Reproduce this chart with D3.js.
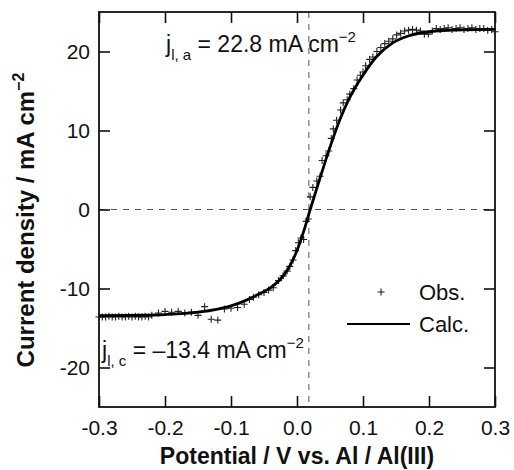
<!doctype html>
<html>
  <head>
    <meta charset="utf-8">
    <script src="https://cdn.jsdelivr.net/npm/d3@7"></script>
    <style>
      body { margin: 0; background: #fff; }
      text { font-family: "Liberation Sans", Arial, sans-serif; fill: #111; }
    </style>
  </head>
  <body>
    <svg id="chart" width="514" height="470"></svg>
    <script>
      // calculated curve (solid line)
      var calcV = [-0.30, -0.25, -0.20, -0.15, -0.12, -0.10, -0.08, -0.06, -0.04, -0.02, -0.01, 0.00,
                   0.01, 0.02, 0.035, 0.05, 0.065, 0.08, 0.10, 0.12, 0.145, 0.17, 0.20, 0.25, 0.30];
      var calcJ = [-13.45, -13.4, -13.3, -13.0, -12.6, -12.2, -11.6, -10.8, -9.9, -8.3, -7.0, -5.2,
                   -2.8, 0.0, 4.0, 7.9, 11.4, 14.2, 17.0, 19.3, 21.1, 22.0, 22.5, 22.75, 22.8];

      // observed points (+)
      var obsV = [-0.300, -0.295, -0.290, -0.285, -0.280, -0.275, -0.270, -0.265, -0.260, -0.255, -0.250,
                  -0.245, -0.240, -0.235, -0.230, -0.225, -0.220, -0.210, -0.200, -0.190, -0.180, -0.170,
                  -0.160, -0.150, -0.140, -0.130, -0.120, -0.110, -0.100, -0.090, -0.080, -0.072, -0.066,
                  -0.058, -0.050, -0.043, -0.036, -0.028, -0.021, -0.015, -0.011, -0.006, -0.002, 0.002,
                  0.006, 0.010, 0.014, 0.017, 0.020, 0.024, 0.030, 0.035, 0.038, 0.044, 0.048, 0.052,
                  0.055, 0.060, 0.066, 0.070, 0.076, 0.080, 0.086, 0.091, 0.096, 0.100, 0.104, 0.110,
                  0.115, 0.121, 0.127, 0.133, 0.139, 0.145, 0.151, 0.157, 0.163, 0.169, 0.175, 0.181,
                  0.187, 0.193, 0.199, 0.205, 0.211, 0.217, 0.223, 0.229, 0.235, 0.241, 0.247, 0.253,
                  0.259, 0.265, 0.271, 0.277, 0.283, 0.289, 0.295, 0.300];
      var obsJ = [-13.6, -13.6, -13.6, -13.5, -13.6, -13.6, -13.5, -13.6, -13.6, -13.5, -13.6,
                  -13.5, -13.6, -13.6, -13.5, -13.6, -13.4, -13.1, -12.9, -13.0, -12.9, -13.1,
                  -13.0, -13.4, -12.3, -13.9, -14.0, -12.6, -12.5, -12.4, -12.0, -11.4, -11.1,
                  -10.8, -10.5, -10.2, -9.9, -9.0, -8.4, -7.8, -7.2, -6.4, -5.2, -4.2,
                  -3.6, -3.8, -1.5, -1.2, 1.6, 2.8, 3.6, 4.2, 6.2, 6.8, 7.4, 9.0,
                  10.2, 11.3, 12.6, 13.5, 13.9, 14.6, 15.3, 16.4, 17.0, 17.4, 18.2, 19.0,
                  19.3, 20.0, 20.5, 21.0, 21.3, 21.6, 22.1, 22.3, 22.6, 22.7, 22.8, 22.7,
                  22.6, 22.2, 22.2, 22.6, 22.9, 22.8, 22.9, 23.0, 22.8, 22.9, 23.0, 22.8,
                  22.9, 23.0, 22.8, 22.9, 22.9, 22.7, 22.8, 22.5];

      var xTicks = [-0.3, -0.2, -0.1, 0.0, 0.1, 0.2, 0.3];
      var yTicks = [-20, -10, 0, 10, 20];
      var zeroV = 0.018; // potential where the current is zero

      var svg = d3.select("#chart"),
        margin = {left: 99, top: 12},
        width = 396,
        height = 395;

      var g = svg.append("g").attr("transform", "translate(" + margin.left + "," + margin.top + ")");

      var x = d3.scaleLinear().domain([-0.3, 0.3]).range([0, width]);
      var y = d3.scaleLinear().domain([-25, 25]).range([height, 0]);

      // dashed guide lines
      g.append("line")
        .attr("x1", 0).attr("x2", width)
        .attr("y1", y(0)).attr("y2", y(0))
        .attr("stroke", "#555").attr("stroke-width", 1).attr("stroke-dasharray", "6,6");
      g.append("line")
        .attr("x1", x(zeroV)).attr("x2", x(zeroV))
        .attr("y1", 0).attr("y2", height)
        .attr("stroke", "#555").attr("stroke-width", 1).attr("stroke-dasharray", "6,6");

      // axes, ticks on all four sides pointing in
      var tk = 11;
      g.append("g")
        .attr("transform", "translate(0," + height + ")")
        .call(d3.axisBottom(x).tickValues(xTicks).tickSizeInner(-tk).tickSizeOuter(0).tickPadding(13)
          .tickFormat(function(d) { return d.toFixed(1); }))
        .attr("class", "axis");
      g.append("g")
        .call(d3.axisLeft(y).tickValues(yTicks).tickSizeInner(-tk).tickSizeOuter(0).tickPadding(9)
          .tickFormat(function(d) { return String(d); }))
        .attr("class", "axis");
      g.append("g")
        .call(d3.axisTop(x).tickValues(xTicks).tickSizeInner(-tk).tickSizeOuter(0).tickFormat(""))
        .attr("class", "axis");
      g.append("g")
        .attr("transform", "translate(" + width + ",0)")
        .call(d3.axisRight(y).tickValues(yTicks).tickSizeInner(-tk).tickSizeOuter(0).tickFormat(""))
        .attr("class", "axis");

      g.selectAll(".axis .domain").remove();
      g.selectAll(".axis line").attr("stroke", "#111").attr("stroke-width", 1.6);
      g.selectAll(".axis text")
        .attr("font-family", "Liberation Sans, Arial, sans-serif")
        .attr("font-size", 21)
        .attr("fill", "#111");

      g.append("rect")
        .attr("width", width).attr("height", height)
        .attr("fill", "none").attr("stroke", "#111").attr("stroke-width", 1.8);

      // observed points
      g.selectAll("path.obs")
        .data(obsV)
        .enter()
        .append("path")
          .attr("class", "obs")
          .attr("d", function(d, i) {
            var px = x(d), py = y(obsJ[i]);
            return "M" + (px - 3.5) + "," + py + "H" + (px + 3.5) + "M" + px + "," + (py - 3.5) + "V" + (py + 3.5);
          })
          .attr("stroke", "#222")
          .attr("stroke-width", 1.1)
          .attr("fill", "none");

      // calculated curve
      var line = d3.line()
        .x(function(d, i) { return x(calcV[i]); })
        .y(function(d, i) { return y(calcJ[i]); })
        .curve(d3.curveMonotoneX);
      g.append("path")
        .datum(calcV)
        .attr("d", line)
        .attr("fill", "none")
        .attr("stroke", "#000")
        .attr("stroke-width", 2.8);

      // annotations
      function note(px, py, sub, rest) {
        var t = svg.append("text").attr("x", px).attr("y", py).attr("font-size", 23);
        t.append("tspan").text("j");
        t.append("tspan").attr("font-size", 15).attr("dy", 8).text(sub);
        t.append("tspan").attr("dy", -8).text(rest);
        t.append("tspan").attr("font-size", 15).attr("dy", -10).text("\u22122");
      }
      note(166, 52, "l, a", " = 22.8 mA cm");
      note(102, 358, "l, c", " = \u201313.4 mA cm");

      // legend
      var lx = 381, ly = 292;
      svg.append("path")
        .attr("d", "M" + (lx - 3.5) + "," + ly + "H" + (lx + 3.5) + "M" + lx + "," + (ly - 3.5) + "V" + (ly + 3.5))
        .attr("stroke", "#222").attr("stroke-width", 1.1);
      svg.append("text").attr("x", 419).attr("y", ly + 8).attr("font-size", 22).text("Obs.");
      svg.append("line")
        .attr("x1", 347).attr("x2", 410).attr("y1", 324).attr("y2", 324)
        .attr("stroke", "#000").attr("stroke-width", 2.2);
      svg.append("text").attr("x", 419).attr("y", 332).attr("font-size", 22).text("Calc.");

      // axis titles
      svg.append("text")
        .attr("x", margin.left + width / 2).attr("y", 464)
        .attr("text-anchor", "middle").attr("font-size", 23).attr("font-weight", "bold")
        .text("Potential / V vs. Al / Al(III)");
      var yt = svg.append("text")
        .attr("transform", "translate(34,220) rotate(-90)")
        .attr("text-anchor", "middle").attr("font-size", 24).attr("font-weight", "bold");
      yt.append("tspan").text("Current density / mA cm");
      yt.append("tspan").attr("font-size", 16).attr("dy", -10).text("\u22122");
    </script>
  </body>
</html>
